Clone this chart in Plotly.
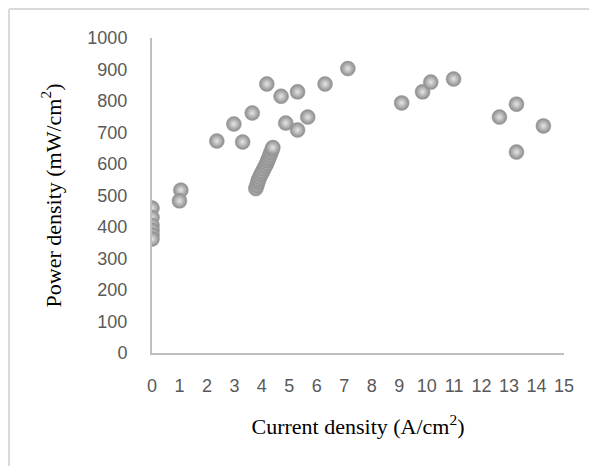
"""
Dispersión de densidad de potencia frente a densidad de corriente.
"""

import plotly.graph_objects as go

# Datos
current_density = [
    0.0, 0.0, 0.0, 0.0, 0.0, 0.0,
    1.05, 1.0,
    3.78, 3.82, 3.85, 3.88, 3.92, 3.97, 4.02, 4.07, 4.12, 4.17, 4.21, 4.25, 4.29, 4.33, 4.37, 4.4,
    2.36, 2.98, 3.3, 3.65, 4.18, 4.7, 4.87, 5.3, 5.3, 5.67, 6.3, 7.13,
    9.09, 9.85, 10.15, 10.98, 12.65, 13.27, 13.27, 14.25,
]
power_density = [
    460, 430, 405, 390, 375, 362,
    517, 483,
    522, 532, 542, 550, 558, 567, 575, 584, 593, 601, 610, 618, 627, 636, 645, 652,
    673, 727, 670, 762, 854, 815, 730, 829, 708, 749, 854, 903,
    794, 829, 860, 870, 749, 790, 638, 721,
]

x_ticks = list(range(0, 16))
y_ticks = list(range(0, 1001, 100))

fig = go.Figure()

fig.add_trace(go.Scatter(
    x=current_density,
    y=power_density,
    mode="markers",
    marker=dict(
        size=15,
        color="#8a8a8a",
        gradient=dict(type="radial", color="#e6e6e6"),
        line=dict(width=0.5, color="#9a9a9a"),
    ),
    showlegend=False,
))

axis_font = dict(family="Liberation Sans, Arial, sans-serif", size=18, color="#595959")
title_font = dict(family="Liberation Serif, Times New Roman, serif", size=22, color="#000000")

fig.update_xaxes(
    range=[0, 15],
    tickvals=x_ticks,
    showgrid=False,
    zeroline=False,
    showline=True,
    linecolor="#bfbfbf",
    linewidth=2,
    ticks="",
    ticklabelstandoff=15,
    tickfont=axis_font,
    title=dict(text="Current density (A/cm<sup>2</sup>)", font=title_font, standoff=24),
)
fig.update_yaxes(
    range=[0, 1000],
    tickvals=y_ticks,
    showgrid=False,
    zeroline=False,
    showline=True,
    linecolor="#bfbfbf",
    linewidth=2,
    ticks="",
    ticklabelstandoff=19,
    tickfont=axis_font,
    title=dict(text="Power density (mW/cm<sup>2</sup>)", font=title_font, standoff=20),
)

# Borde exterior (solo arriba e izquierda visibles)
fig.add_shape(type="line", xref="paper", yref="paper",
              x0=-0.347, x1=1.2, y0=1.092, y1=1.092,
              line=dict(color="#d9d9d9", width=2))
fig.add_shape(type="line", xref="paper", yref="paper",
              x0=-0.347, x1=-0.347, y0=1.092, y1=-0.5,
              line=dict(color="#d9d9d9", width=2))

fig.update_layout(
    width=597,
    height=466,
    margin=dict(l=144, r=41, t=30, b=121, autoexpand=False),
    plot_bgcolor="white",
    paper_bgcolor="white",
)

fig.write_html("out.html")
